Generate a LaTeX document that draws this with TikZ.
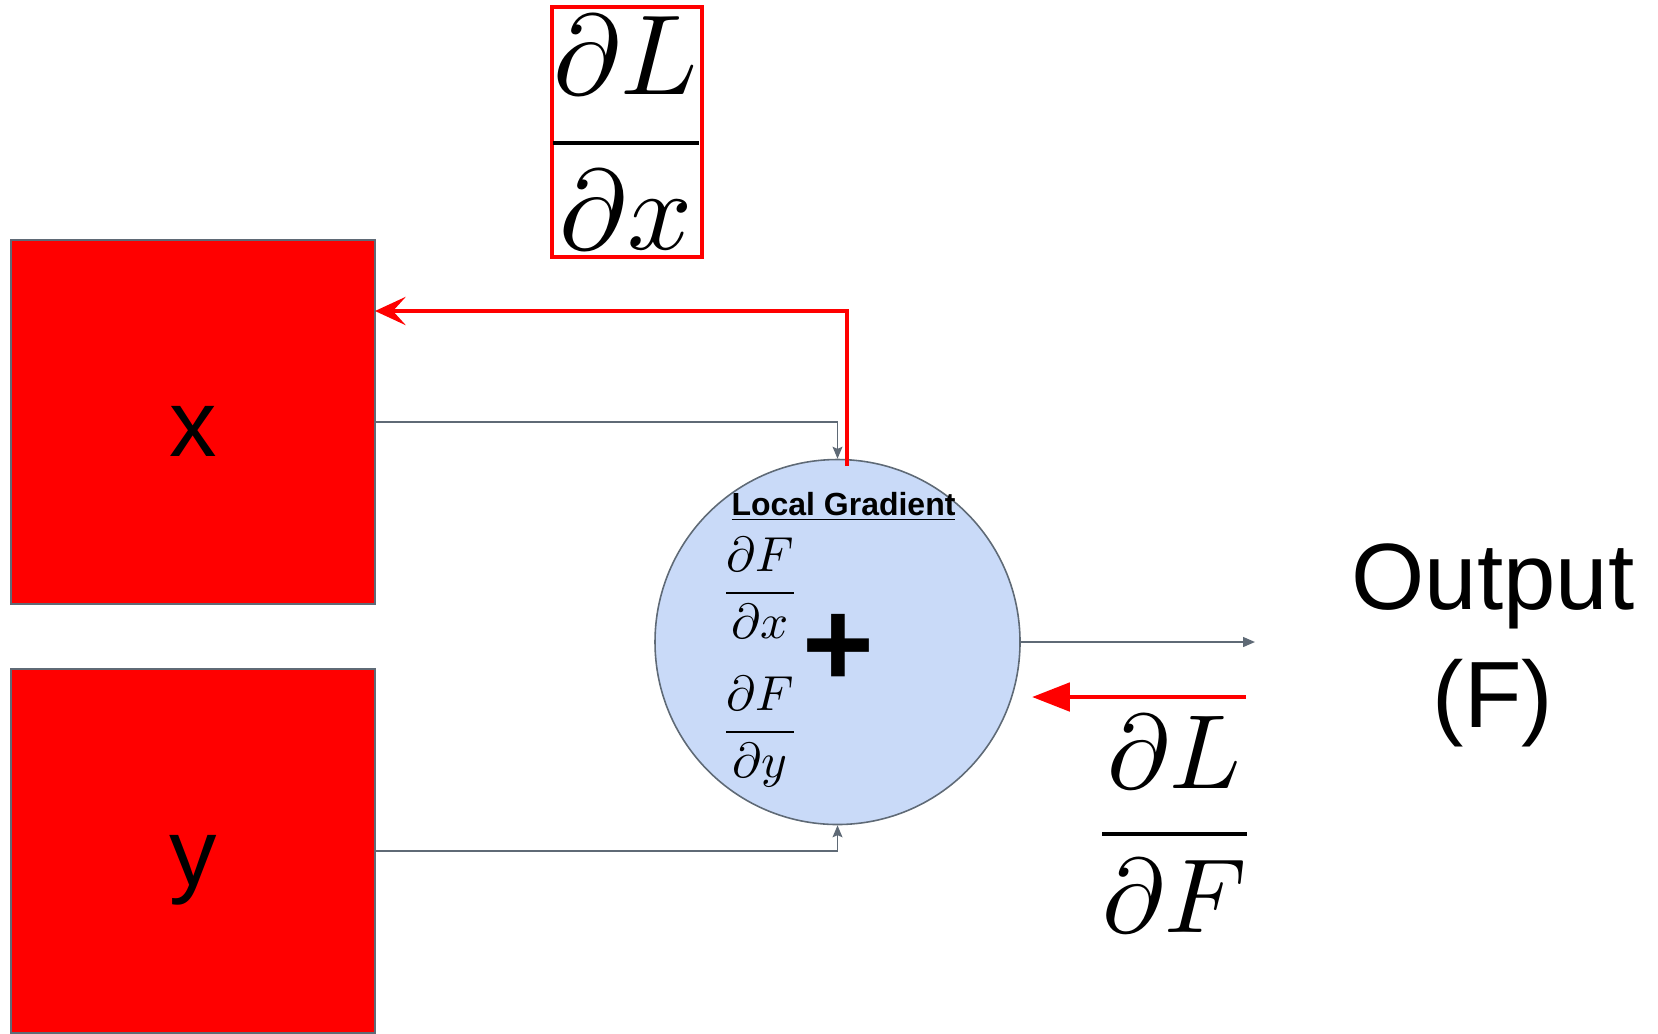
\documentclass[tikz,border=0pt]{standalone}
\usepackage{fontspec}
\setmainfont{Liberation Sans}
\usepackage{unicode-math}
\setmathfont{Latin Modern Math}
\usetikzlibrary{arrows.meta,calc}
\definecolor{edgegray}{HTML}{5F6A76}
\definecolor{nodeblue}{HTML}{C9DAF8}
\definecolor{pured}{HTML}{FF0000}
\tikzset{
  inbox/.style={draw=edgegray,line width=0.35pt,fill=pured,rectangle,minimum width=3.64cm,minimum height=3.64cm,inner sep=0pt},
  opnode/.style={draw=edgegray,line width=0.45pt,fill=nodeblue,circle,minimum size=3.65cm,inner sep=0pt},
  flow/.style={draw=edgegray,line width=0.45pt,-{Stealth[length=3.4pt,width=2.8pt,inset=0.6pt]}},
  outflow/.style={draw=edgegray,line width=0.45pt,-{Triangle[length=3.4pt,width=2.8pt]}},
  backtop/.style={draw=pured,line width=1.4pt,-{Stealth[length=8.7pt,width=8pt,inset=3.6pt]}},
  backbot/.style={draw=pured,line width=1.4pt,-{Triangle[length=10.8pt,width=8pt]}},
  lbl/.style={inner sep=0pt,anchor=base},
}
\begin{document}
\begin{tikzpicture}[x=1cm,y=1cm]
\useasboundingbox (0,0) rectangle (16.58,-10.33);
% input boxes
\node[inbox] (xbox) at (1.93,-4.22) {};
\node[inbox] (ybox) at (1.93,-8.51) {};
\node[lbl,font=\fontsize{27}{30}\selectfont] (xlab) at (1.93,-4.56) {x};
\node[lbl,font=\fontsize{27}{30}\selectfont] (ylab) at (1.93,-8.85) {y};
% operation node
\node[opnode] (circ) at (8.375,-6.42) {};
\node[lbl,font=\fontsize{9.1}{11}\selectfont\bfseries] (lg) at (8.435,-5.15) {\underline{Local Gradient}};
\node[lbl,font=\fontsize{14}{16}\selectfont] (fx) at (7.60,-6.05) {$\displaystyle\frac{\partial F}{\partial x}$};
\node[lbl,font=\fontsize{14}{16}\selectfont] (fy) at (7.60,-7.44) {$\displaystyle\frac{\partial F}{\partial y}$};
\node[lbl,font=\fontsize{35}{40}\selectfont\bfseries] (plus) at (8.38,-6.86) {+};
% output
\node[lbl,align=center,font=\fontsize{26.8}{33.3}\selectfont] (out) at (14.93,-7.27) {Output\\(F)};
\coordinate (outend) at (12.55,-6.42);
% forward flows
\draw[flow] (xbox.east) -| (circ.north);
\draw[flow] (ybox.east) -| (circ.south);
\draw[outflow] (circ.east) -- (outend);
% gradient labels
\node[lbl,draw=pured,line width=1.4pt,minimum width=1.5cm,minimum height=2.5cm,anchor=center] (dldxbox) at (6.27,-1.32) {};
\node[lbl,font=\fontsize{32.4}{36}\selectfont] (dldx) at (6.26,-1.715) {$\displaystyle\frac{\partial L}{\partial x}$};
\node[lbl,font=\fontsize{30}{34}\selectfont] (dldf) at (11.745,-8.60) {$\displaystyle\frac{\partial L}{\partial F}$};
% backward flows
\coordinate (rstart) at (8.47,-4.66);
\coordinate (xin) at (3.75,-3.11);
\draw[backtop] (rstart) |- (xin);
\coordinate (gstart) at (12.46,-6.97);
\coordinate (gend) at (10.32,-6.97);
\draw[backbot] (gstart) -- (gend);
\end{tikzpicture}
\end{document}
